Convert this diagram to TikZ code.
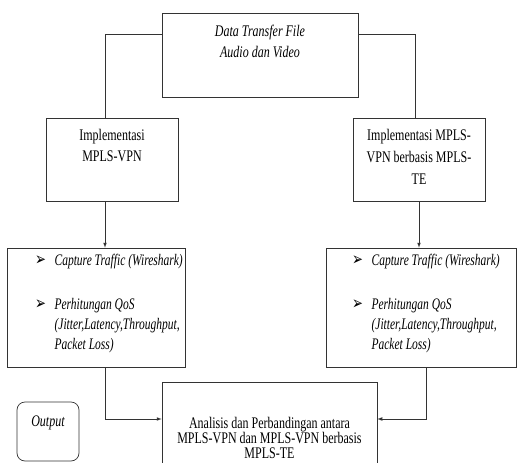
\documentclass[tikz,border=0pt]{standalone}
\usepackage{fontspec}
\usepackage{graphicx}
\setmainfont{Liberation Serif}
\newfontfamily\symfont{DejaVu Sans}
\usetikzlibrary{positioning}

% the scanned texts are drawn taller than wide
\newcommand{\tall}[1]{\scalebox{1}[1.35]{\begin{tabular}{@{}c@{}}#1\end{tabular}}}
\newcommand{\blt}{{\symfont\fontsize{13}{13}\selectfont ➢}}
\newcommand{\qoslist}{%
  \scalebox{1}[1.4]{\begin{tabular}[t]{@{}l@{\hspace{8.5pt}}l@{}}
    \blt & Capture Traffic (Wireshark)\\[17.2pt]
    \blt & Perhitungan QoS\\
         & (Jitter,Latency,Throughput,\\
         & Packet Loss)
  \end{tabular}}}

\tikzset{
  box/.style={draw=black!80, line width=0.7pt, minimum width=#1},
  txt/.style={align=center, font=\fontsize{12}{10.9}\selectfont, inner sep=0pt},
  conn/.style={draw=black!80, line width=0.7pt}
}

\begin{document}
\begin{tikzpicture}[x=1pt, y=-1pt, >=latex]

    \useasboundingbox (0,0) rectangle (517,463);

    % Draw the boxes
    \node[box=196pt, minimum height=84pt] (src) at (260,55) {};
    \node[box=132pt, minimum height=83pt] (vpn) at (112,159.5) {};
    \node[box=132pt, minimum height=83pt] (te) at (419,159.5) {};
    \node[box=178pt, minimum height=119pt] (cap1) at (96,307.5) {};
    \node[box=190pt, minimum height=119pt] (cap2) at (421,307.5) {};
    \node[box=215pt, minimum height=88pt] (hasil) at (269.5,426) {};
    \node[box=62pt, minimum height=59pt, rounded corners=8pt] (out) at (48,431.5) {};

    % Texts of the boxes
    \node[txt, font=\itshape\fontsize{12}{15.5}\selectfont] (srctxt) at (260,42.5) {\tall{Data Transfer File\\Audio dan Video}};
    \node[txt, font=\fontsize{12}{15.5}\selectfont] (vpntxt) at (112,146.5) {\tall{Implementasi\\MPLS-VPN}};
    \node[txt, font=\fontsize{12}{16.3}\selectfont] (tetxt) at (419,158) {\tall{Implementasi MPLS-\\VPN berbasis MPLS-\\TE}};
    \node[txt, font=\itshape\fontsize{11.5}{14.3}\selectfont, anchor=base west] (list1) at (35,265) {\qoslist};
    \node[txt, font=\itshape\fontsize{11.5}{14.3}\selectfont, anchor=base west] (list2) at (352,265) {\qoslist};
    \node[txt] (hasiltxt) at (269.5,440) {\tall{Analisis dan Perbandingan antara\\MPLS-VPN dan MPLS-VPN berbasis\\MPLS-TE}};
    \node[txt, font=\itshape\fontsize{12}{12}\selectfont] (outtxt) at (48,423) {\tall{Output}};

    % Draw the connectors
    \draw[conn] ([yshift=-22pt]src.north west) -| ([xshift=-7pt]vpn.north);
    \draw[conn] ([yshift=-22pt]src.north east) -| ([xshift=-4pt]te.north);
    \draw[conn,->] ([xshift=-7pt]vpn.south) -- ([xshift=-7pt]vpn.south |- cap1.north);
    \draw[conn,->] (te.south) -- (te.south |- cap2.north);
    \draw[conn,->] ([xshift=9pt]cap1.south) |- ([yshift=7pt]hasil.west);
    \draw[conn,->] ([xshift=5pt]cap2.south) |- ([yshift=7pt]hasil.east);

\end{tikzpicture}
\end{document}
